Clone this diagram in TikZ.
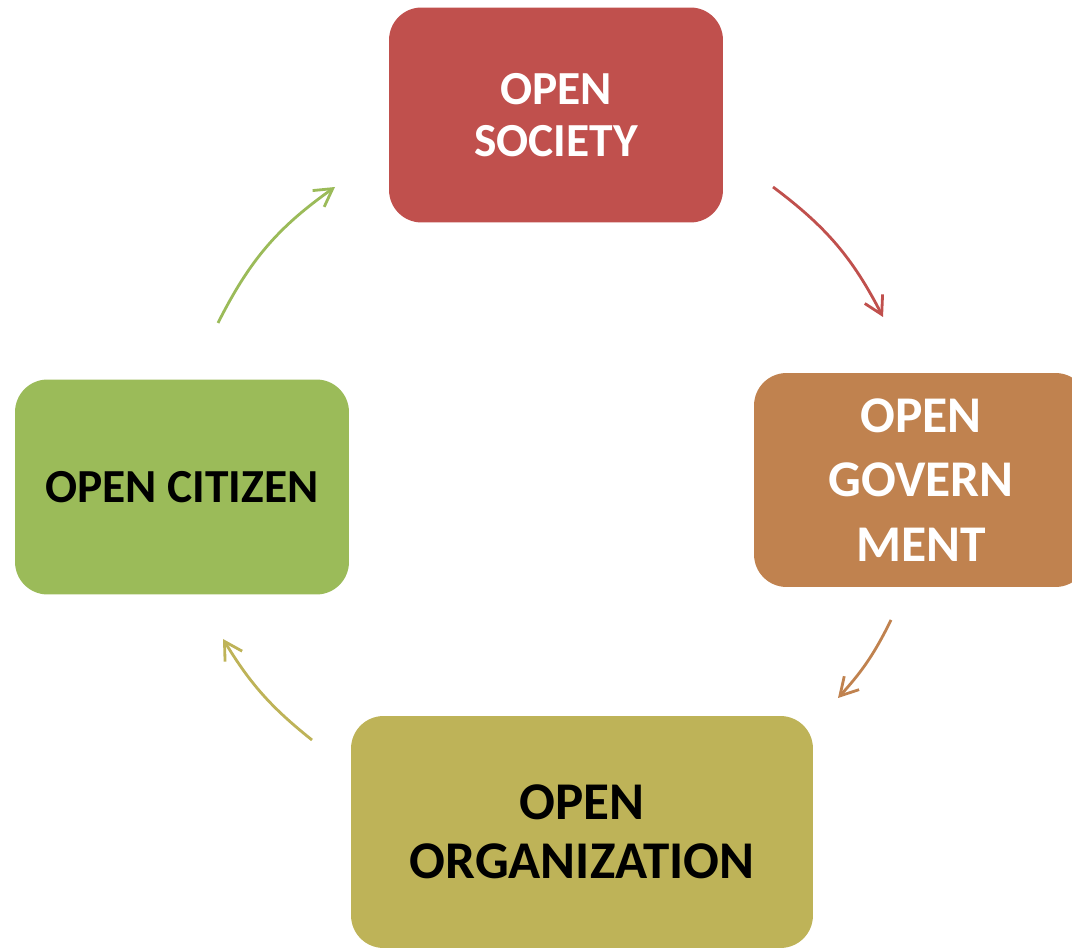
\documentclass[tikz,border=0pt]{standalone}
\usepackage{fontspec}
\setmainfont{Carlito}
\usepackage{tikz}
\usetikzlibrary{arrows.meta}

\definecolor{societyred}{HTML}{C0504D}
\definecolor{governbrown}{HTML}{C0824F}
\definecolor{organolive}{HTML}{BEB358}
\definecolor{citizengreen}{HTML}{9BBB59}

\begin{document}
\begin{tikzpicture}[x=0.02cm,y=0.02cm]
            \tikzset{
              openbox/.style={rounded corners=0.65cm, inner sep=0pt, align=center,
                minimum width=6.68cm, minimum height=4.3cm},
              cyclearrow/.style={line width=1.6pt, -{Straight Barb[length=3.5mm,width=4mm]}}
            }
            \useasboundingbox (0,0) rectangle (1072,947);

            % Draw boxes
            \node[openbox, fill=societyred, text=white,
                  font=\fontsize{27}{30}\selectfont\bfseries] (society) at (556,832) {OPEN\\SOCIETY};
            \node[openbox, fill=governbrown, text=white, minimum height=4.28cm,
                  font=\fontsize{29.3}{36.8}\selectfont\bfseries] (govern) at (921,467) {OPEN\\GOVERN\\MENT};
            \node[openbox, fill=organolive, text=black, minimum width=9.24cm, minimum height=4.64cm,
                  font=\fontsize{30.2}{33.4}\selectfont\bfseries] (organ) at (582,115) {OPEN\\ORGANIZATION};
            \node[openbox, fill=citizengreen, text=black,
                  font=\fontsize{27}{30}\selectfont\bfseries] (citizen) at (182,460) {OPEN CITIZEN};

            % Draw arrows round the cycle
            \coordinate (sa) at (773,760);
            \coordinate (sb) at (883,630);
            \coordinate (ga) at (891,327);
            \coordinate (gb) at (838,249);
            \coordinate (oa) at (312,207);
            \coordinate (ob) at (223,308);
            \coordinate (ca) at (218,624);
            \coordinate (cb) at (335,760);

            \draw[cyclearrow, societyred] (sa) to[bend left=13] (sb);
            \draw[cyclearrow, governbrown] (ga) to[bend left=8] (gb);
            \draw[cyclearrow, organolive] (oa) to[bend left=10] (ob);
            \draw[cyclearrow, citizengreen] (ca) to[bend left=14] (cb);
        \end{tikzpicture}
\end{document}
